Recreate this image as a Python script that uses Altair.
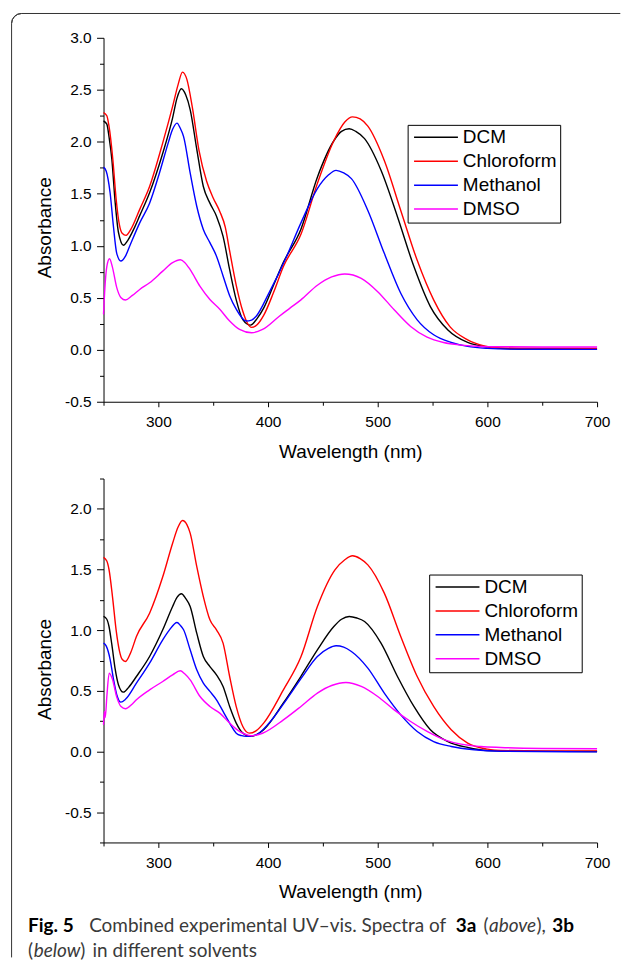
import altair as alt
import pandas as pd

SOLVENTS = ["DCM", "Chloroform", "Methanol", "DMSO"]
COLORS = ["#000000", "#ff0000", "#0000ff", "#ff00ff"]

# ---------------- 3a (above) ----------------
a_dcm_wl = [250,253,255,257.6,260.6,263.6,268.2,272,278,283,292,304,313,317,321,325,329,335,341,347,353,359,365,371,377,384,390,396,405,414,430,445,460,467,474,480,488,503,518,533,548,564,582,600,612,640,700]
a_dcm_ab = [2.20,2.17,2.05,1.83,1.42,1.13,1.005,1.05,1.17,1.29,1.51,1.89,2.23,2.42,2.51,2.45,2.31,1.93,1.57,1.41,1.285,1.09,0.77,0.48,0.29,0.237,0.30,0.40,0.62,0.84,1.16,1.66,2.01,2.10,2.125,2.10,2.03,1.726,1.28,0.80,0.415,0.19,0.07,0.026,0.013,0.006,0.005]

a_chl_wl = [250,253,255,258.5,261.5,264.5,267,270.6,275,283,292,304,313,318,322,326,331,337,344,350,356,361,365,371,377,381,385,390,396,405,414,430,445,460,470,477,484,491,506,521,536,551,566,582,597,612,640,700]
a_chl_ab = [2.28,2.25,2.15,1.83,1.45,1.20,1.12,1.10,1.16,1.35,1.57,1.99,2.34,2.55,2.67,2.60,2.33,1.92,1.62,1.46,1.33,1.18,0.95,0.62,0.37,0.26,0.215,0.24,0.33,0.55,0.80,1.11,1.60,2.01,2.19,2.24,2.22,2.15,1.82,1.34,0.86,0.48,0.22,0.096,0.038,0.018,0.014,0.013]

a_met_wl = [250,252.4,256,259,262,265.8,270,274,283,292,301,309,313,317,320,323,329,335,341,347,353,359,365,371,376,380,385,389,401,417,430,445,455,462,469,476,491,506,521,536,551,567,582,600,620,700]
a_met_ab = [1.756,1.72,1.51,1.19,0.93,0.853,0.90,1.00,1.22,1.41,1.70,1.99,2.12,2.18,2.13,2.05,1.70,1.38,1.157,1.03,0.90,0.71,0.52,0.39,0.31,0.276,0.285,0.32,0.55,0.90,1.22,1.55,1.68,1.725,1.70,1.646,1.34,0.927,0.543,0.288,0.144,0.07,0.032,0.013,0.006,0.004]

a_dmso_wl = [250,251,253,255.5,258,262,266,270,276,283,292,304,313,320,324,329,338,347,356,365,374,385,395,410,420,430,445,458,470,485,500,515,530,545,560,576,594,612,650,700]
a_dmso_ab = [0.34,0.55,0.80,0.875,0.80,0.60,0.50,0.478,0.52,0.58,0.644,0.756,0.837,0.865,0.84,0.77,0.61,0.484,0.39,0.276,0.195,0.163,0.195,0.32,0.40,0.48,0.62,0.70,0.729,0.687,0.559,0.384,0.224,0.121,0.07,0.045,0.032,0.029,0.027,0.026]

# ---------------- 3b (below) ----------------
b_dcm_wl = [250,253,255,257.6,260.6,263.6,268,273,280,292,304,313,317,321,325,329,335,341,347,353,359,365,371,377,384,390,396,414,430,445,460,467,474,481,488,503,518,533,548,564,582,600,630,700]
b_dcm_ab = [1.113,1.09,1.03,0.88,0.68,0.55,0.489,0.53,0.618,0.783,1.003,1.195,1.27,1.30,1.26,1.195,0.975,0.783,0.70,0.632,0.536,0.371,0.234,0.151,0.124,0.14,0.179,0.40,0.62,0.838,1.03,1.09,1.113,1.10,1.071,0.893,0.618,0.371,0.179,0.082,0.033,0.008,0.002,0.0]

b_chl_wl = [250,253,255,258.5,261.5,264.5,267,270,275,280,292,304,313,318,322,326,329,335,341,347,353,359,365,371,377,383,389,396,414,430,445,461,470,477,484,491,506,521,536,551,567,582,600,612,650,700]
b_chl_ab = [1.60,1.57,1.50,1.25,1.00,0.83,0.76,0.742,0.82,0.948,1.14,1.44,1.717,1.85,1.904,1.87,1.80,1.525,1.277,1.085,1.003,0.893,0.618,0.37,0.206,0.151,0.17,0.234,0.508,0.78,1.195,1.497,1.58,1.613,1.59,1.538,1.305,0.948,0.618,0.371,0.179,0.069,0.019,0.008,0.005,0.005]

b_met_wl = [250,252.4,256,259,262,265.8,270,280,292,304,310,317,320,323,329,335,341,347,353,359,365,371,376,380,389,401,417,430,445,455,462,469,476,491,506,521,536,551,567,588,612,700]
b_met_ab = [0.893,0.87,0.76,0.60,0.47,0.407,0.43,0.563,0.728,0.92,1.0,1.063,1.04,1.003,0.838,0.673,0.563,0.495,0.426,0.33,0.234,0.151,0.13,0.124,0.137,0.234,0.43,0.60,0.783,0.85,0.871,0.86,0.824,0.687,0.481,0.302,0.165,0.082,0.041,0.014,0.002,-0.003]

b_dmso_wl = [250,250.8,251.6,253,255.2,258,262,266,270,276,280,292,304,313,320,324,329,338,347,356,365,374,385,395,414,430,445,458,471,485,500,515,530,545,561,576,594,612,650,700]
b_dmso_ab = [0.22,0.33,0.28,0.45,0.646,0.60,0.45,0.37,0.352,0.39,0.426,0.508,0.577,0.632,0.665,0.64,0.59,0.453,0.371,0.316,0.234,0.165,0.13,0.15,0.26,0.371,0.481,0.544,0.569,0.536,0.453,0.343,0.247,0.165,0.096,0.06,0.041,0.033,0.025,0.022]

X_TICKS = [250, 300, 350, 400, 450, 500, 550, 600, 650, 700]
Y_TICKS_A = [-0.5 + 0.25 * i for i in range(15)]
Y_TICKS_B = [-0.75 + 0.25 * i for i in range(13)]

CAPTION_1 = ["Fig. 5", "Combined experimental UV\u2013vis. Spectra of", "3a", "(", "above", "),", "3b"]
CAPTION_2 = ["(", "below", ")", "in different solvents"]


def make_df(pairs):
    rows = []
    for name, wl, ab in pairs:
        for w, a in zip(wl, ab):
            rows.append({"solvent": name, "wl": w, "A": a})
    return pd.DataFrame(rows)


df_a = make_df([("DCM", a_dcm_wl, a_dcm_ab), ("Chloroform", a_chl_wl, a_chl_ab),
                ("Methanol", a_met_wl, a_met_ab), ("DMSO", a_dmso_wl, a_dmso_ab)])
df_b = make_df([("DCM", b_dcm_wl, b_dcm_ab), ("Chloroform", b_chl_wl, b_chl_ab),
                ("Methanol", b_met_wl, b_met_ab), ("DMSO", b_dmso_wl, b_dmso_ab)])

W, H = 495, 365
one = pd.DataFrame({"k": [0]})


def lines(df, ydom, yticks, lx, ly, ty):
    return alt.Chart(df).mark_line(strokeWidth=1.4, interpolate="monotone").encode(
        x=alt.X("wl:Q", scale=alt.Scale(domain=[250, 700], nice=False, zero=False),
                axis=alt.Axis(values=X_TICKS, title="Wavelength (nm)", format="d",
                              labelExpr="datum.value % 100 === 0 ? datum.label : ''",
                              tickSize={"condition": {"test": "datum.value % 100 === 0", "value": 5}, "value": 3.5},
                              labelPadding=8, titlePadding=12, labelFlush=False)),
        y=alt.Y("A:Q", scale=alt.Scale(domain=ydom, nice=False, zero=False),
                axis=alt.Axis(values=yticks, title="Absorbance", format=".1f",
                              labelExpr="datum.value % 0.5 === 0 ? replace(datum.label, '\u2212', '-') : ''",
                              tickSize={"condition": {"test": "datum.value % 0.5 === 0", "value": 7}, "value": 4},
                              labelPadding=5.4, titlePadding=10, titleY=ty, labelFlush=False)),
        color=alt.Color("solvent:N", sort=SOLVENTS,
                        scale=alt.Scale(domain=SOLVENTS, range=COLORS),
                        legend=alt.Legend(orient="none", legendX=lx, legendY=ly, title=None,
                                          symbolType="M-1.1,0H6.9", symbolSize=121, symbolStrokeWidth=1.5,
                                          labelFont="Liberation Sans", labelFontSize=19, labelColor="black",
                                          labelOffset=33.4, padding=3, rowPadding=4,
                                          strokeColor="black", fillColor="white", cornerRadius=0)),
    )


# page coordinates of the two plot origins
OX, OY_A, OY_B = 101.7, 37.7, 478.0
FRAME = "#333333"

frame_top = alt.Chart(one).mark_rule(color=FRAME, strokeWidth=1).encode(
    x=alt.value(19.5 - OX), x2=alt.value(620 - OX), y=alt.value(13.3 - OY_A))
frame_left = alt.Chart(one).mark_rule(color=FRAME, strokeWidth=1).encode(
    x=alt.value(9.5 - OX), y=alt.value(23.3 - OY_A), y2=alt.value(960 - OY_A))
frame_corner = alt.Chart(one).mark_arc(radius=10, radius2=10, theta=4.712389, theta2=6.283185,
                                       fillOpacity=0, stroke=FRAME, strokeWidth=1).encode(
    x=alt.value(19.5 - OX), y=alt.value(23.3 - OY_A))


def cap(text, px, py, weight="normal", style="normal", color="#3a3a3a"):
    return alt.Chart(one).mark_text(align="left", baseline="alphabetic", font="Lato", fontSize=19,
                                    fontWeight=weight, fontStyle=style, color=color).encode(
        x=alt.value(px - OX), y=alt.value(py - OY_B), text=alt.value(text))


L1, L2 = 933, 958
captions = [
    cap(CAPTION_1[0], 26, L1, weight="bold", color="black"),
    cap(CAPTION_1[1], 87.3, L1),
    cap(CAPTION_1[2], 455, L1, weight="bold", color="black"),
    cap(CAPTION_1[3], 482.7, L1),
    cap(CAPTION_1[4], 488.3, L1, style="italic"),
    cap(CAPTION_1[5], 536, L1),
    cap(CAPTION_1[6], 551.7, L1, weight="bold", color="black"),
    cap(CAPTION_2[0], 26, L2),
    cap(CAPTION_2[1], 31.7, L2, style="italic"),
    cap(CAPTION_2[2], 78.3, L2),
    cap(CAPTION_2[3], 90.7, L2),
]

top = alt.layer(lines(df_a, [-0.5, 3.0], Y_TICKS_A, 305, 87.3, 190),
                frame_top, frame_left, frame_corner).properties(width=W, height=H)
bottom = alt.layer(lines(df_b, [-0.75, 2.25], Y_TICKS_B, 326.6, 96.3, 191),
                   *captions).properties(width=W, height=H)

chart = alt.vconcat(top, bottom, spacing=77, bounds="flush").resolve_scale(
    color="independent", x="independent", y="independent").resolve_legend(color="independent").properties(
    padding={"left": 0.8, "top": 1.5, "right": 0, "bottom": 0}, background="white"
).configure_view(stroke=None).configure_axis(
    grid=False, domainColor="black", domainWidth=1, tickColor="black", tickWidth=1,
    labelColor="black", titleColor="black", labelFont="Liberation Sans", titleFont="Liberation Sans",
    labelFontSize=15.5, titleFontSize=19, titleFontWeight="normal")

chart.save("out.html", embed_options={"renderer": "svg", "actions": False})
